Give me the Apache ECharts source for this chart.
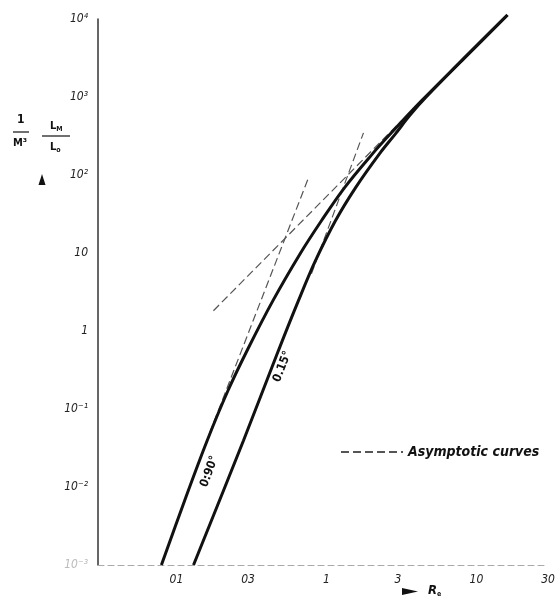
<!DOCTYPE html>
<html><head><meta charset="utf-8">
<script src="https://cdn.jsdelivr.net/npm/echarts@6/dist/echarts.min.js"></script>
<style>html,body{margin:0;padding:0;background:#fff}#c{width:558px;height:604px}</style>
</head><body><div id="c"></div>
<script>
// ---- tick values and labels ----
const xTicks = [0.1, 0.3, 1, 3, 10, 30];
const xTickLabels = ['01', '03', '1', '3', '10', '30'];
const yTicks = [0.001, 0.01, 0.1, 1, 10, 100, 1000, 10000];
const yTickLabels = ['10⁻³', '10⁻²', '10⁻¹', '1', '10', '10²', '10³', '10⁴'];

// ---- curve θ = 0.90° ----
const curve090X = [0.0794, 0.1135, 0.1604, 0.2208, 0.3005, 0.440, 0.668, 0.926, 1.318, 2.027, 2.671, 4.30, 8.32, 16.1];
const curve090Y = [0.001, 0.00673, 0.0395, 0.1726, 0.596, 2.45, 9.79, 25.9, 68.5, 186.6, 337, 891, 3170, 11250];

// ---- curve θ = 0.15° ----
const curve015X = [0.130, 0.280, 0.4786, 0.6507, 0.845, 1.148, 1.561, 2.256, 2.884, 3.575, 4.365, 8.32, 16.1];
const curve015Y = [0.001, 0.0395, 0.561, 2.45, 7.97, 25.9, 68.5, 186.6, 337, 573, 891, 3170, 11250];

// ---- asymptotic curves ----
const asym090X = [0.166, 0.759];
const asym090Y = [0.0486, 92];
const asym015X = [0.794, 1.766];
const asym015Y = [5.43, 347];
const asymHighX = [0.1765, 3.16];
const asymHighY = [1.82, 494];

// ---- curve labels (position in data space) ----
const label090 = { text: '0:90°', x: 0.166, y: 0.0158 };
const label015 = { text: '0.15°', x: 0.509, y: 0.35 };

const legendName = 'Asymptotic curves';

function pairs(xs, ys) { return xs.map((x, i) => [x, ys[i]]); }
function nearestIdx(v, ticks) {
  let best = 0, bd = Infinity;
  ticks.forEach((t, i) => { const d = Math.abs(Math.log10(v) - Math.log10(t)); if (d < bd) { bd = d; best = i; } });
  return best;
}

const chart = echarts.init(document.getElementById('c'), null, { renderer: 'canvas' });

const curveStyle = { color: '#111', width: 3 };
const asymStyle = { color: '#555', width: 1.2, type: [8, 4] };
const labelFont = { fontFamily: 'DejaVu Sans Condensed, DejaVu Sans, sans-serif', fontWeight: 'bold', fontSize: 12, color: '#111' };

function asymSeries(xs, ys) {
  return {
    type: 'line', name: legendName, data: pairs(xs, ys), showSymbol: false, symbol: 'none',
    lineStyle: asymStyle, itemStyle: { color: '#555' }, clip: false, silent: true, z: 1
  };
}

chart.setOption({
  animation: false,
  backgroundColor: '#fff',
  grid: { left: 98, right: 10, top: 19, bottom: 39 },
  legend: {
    data: [legendName], left: 340, top: 445, padding: 0, itemWidth: 62, itemHeight: 14,
    itemStyle: { opacity: 0 },
    textStyle: { fontFamily: 'DejaVu Sans Condensed, DejaVu Sans, sans-serif', fontWeight: 'bold', fontStyle: 'italic', fontSize: 14, color: '#111' },
    selectedMode: false
  },
  xAxis: {
    type: 'log', logBase: 10, min: 0.03, max: 30,
    axisLine: { show: true, lineStyle: { color: '#aaa', width: 1, type: [6, 4] } },
    axisTick: { show: false },
    splitLine: { show: false },
    axisLabel: {
      customValues: xTicks,
      formatter: (v) => xTickLabels[nearestIdx(v, xTicks)],
      margin: 9, fontSize: 12, fontStyle: 'italic', color: '#222',
      fontFamily: 'DejaVu Sans Condensed, DejaVu Sans, sans-serif'
    }
  },
  yAxis: {
    type: 'log', logBase: 10, min: 0.001, max: 10000,
    axisLine: { show: true, lineStyle: { color: '#333', width: 1.5 } },
    axisTick: { show: false },
    splitLine: { show: false },
    axisLabel: {
      customValues: yTicks,
      formatter: (v) => yTickLabels[nearestIdx(v, yTicks)],
      margin: 10, fontSize: 12, fontStyle: 'italic',
      color: (v) => nearestIdx(v, yTicks) === 0 ? '#bbb' : '#222',
      fontFamily: 'DejaVu Sans Condensed, DejaVu Sans, sans-serif'
    }
  },
  series: [
    asymSeries(asym090X, asym090Y),
    asymSeries(asym015X, asym015Y),
    asymSeries(asymHighX, asymHighY),
    {
      type: 'line', name: '0.90', data: pairs(curve090X, curve090Y), showSymbol: false, smooth: 0.35,
      lineStyle: curveStyle, clip: false, silent: true, z: 3,
      markPoint: {
        symbol: 'circle', symbolSize: 0, silent: true,
        data: [{ coord: [label090.x, label090.y], label: Object.assign({ show: true, formatter: label090.text, rotate: 70, position: 'inside' }, labelFont) }]
      }
    },
    {
      type: 'line', name: '0.15', data: pairs(curve015X, curve015Y), showSymbol: false, smooth: 0.35,
      lineStyle: curveStyle, clip: false, silent: true, z: 3,
      markPoint: {
        symbol: 'circle', symbolSize: 0, silent: true,
        data: [{ coord: [label015.x, label015.y], label: Object.assign({ show: true, formatter: label015.text, rotate: 69, position: 'inside' }, labelFont) }]
      }
    }
  ],
  graphic: [
    { type: 'text', left: 17, top: 114, style: { text: '1', font: 'bold 12px DejaVu Sans Condensed, sans-serif', fill: '#111' } },
    { type: 'line', shape: { x1: 13, y1: 132, x2: 29, y2: 132 }, style: { stroke: '#111', lineWidth: 1.2 } },
    { type: 'text', left: 13, top: 138, style: { text: 'M³', font: 'bold 11px DejaVu Sans Condensed, sans-serif', fill: '#111' } },
    { type: 'text', left: 50, top: 121, style: { rich: { a: { font: 'bold 11px DejaVu Sans Condensed, sans-serif', fill: '#111' }, s: { font: 'bold 7px DejaVu Sans Condensed, sans-serif', fill: '#111', padding: [6, 0, 0, 0] } }, text: '{a|L}{s|M}' } },
    { type: 'line', shape: { x1: 42, y1: 136, x2: 70, y2: 136 }, style: { stroke: '#111', lineWidth: 1.2 } },
    { type: 'text', left: 50, top: 142, style: { rich: { a: { font: 'bold 11px DejaVu Sans Condensed, sans-serif', fill: '#111' }, s: { font: 'bold 7px DejaVu Sans Condensed, sans-serif', fill: '#111', padding: [6, 0, 0, 0] } }, text: '{a|L}{s|o}' } },
    { type: 'polygon', shape: { points: [[42, 174], [38.5, 185], [45.5, 185]] }, style: { fill: '#111' } },
    { type: 'polygon', shape: { points: [[402, 588], [418, 591.5], [402, 595]] }, style: { fill: '#111' } },
    { type: 'text', left: 428, top: 584, style: { rich: { a: { font: 'bold italic 13px DejaVu Sans Condensed, sans-serif', fill: '#111' }, s: { font: 'bold 7px DejaVu Sans Condensed, sans-serif', fill: '#111', padding: [8, 0, 0, 0] } }, text: '{a|R}{s|e}' } }
  ]
});
</script></body></html>
